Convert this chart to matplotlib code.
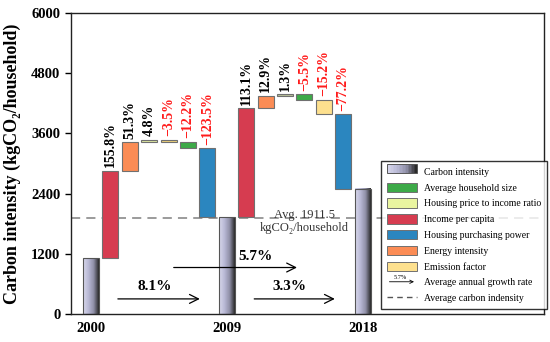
import matplotlib
matplotlib.use("Agg")
import matplotlib.pyplot as plt
import numpy as np
from matplotlib.colors import LinearSegmentedColormap
from matplotlib.patches import Patch, Rectangle, FancyArrowPatch
from matplotlib.legend_handler import HandlerBase
from matplotlib.lines import Line2D
from matplotlib.text import Text

plt.rcParams['font.family'] = ['Liberation Serif', 'DejaVu Serif']

# ---- data ----
years = ["2000", "2009", "2018"]
carbon_intensity = [1114, 1926, 2500]
avg_value = 1911.5
factor_names = ["Income per capita", "Energy intensity", "Housing price to income ratio",
                "Emission factor", "Average household size", "Housing purchasing power"]
deltas_2000_2009 = [1736, 571, 53, -39, -136, -1376]
deltas_2009_2018 = [2178, 248, 25, -106, -293, -1487]
labels_2000_2009 = ["155.8%", "51.3%", "4.8%", "\u22123.5%", "\u221212.2%", "\u2212123.5%"]
labels_2009_2018 = ["113.1%", "12.9%", "1.3%", "\u22125.5%", "\u221215.2%", "\u221277.2%"]
colors_2000_2009 = ["#d63c50", "#fb8c55", "#dfe8a0", "#f0d27a", "#3daa48", "#2b86bf"]
colors_2009_2018 = ["#d63c50", "#fb8c55", "#b8c098", "#3daa48", "#fde08e", "#2b86bf"]
growth_labels = ["8.1%", "5.7%", "3.3%"]
yticks = [0, 1200, 2400, 3600, 4800, 6000]

fig = plt.figure(figsize=(5.5, 3.42), dpi=100)
ax = fig.add_axes([0.1285, 0.082, 0.8605, 0.880])

width = 0.82
cmap = LinearSegmentedColormap.from_list("ci", ["#d8d8ec", "#babad6", "#9090a8", "#2a2a2a"])
grad = np.linspace(0, 1, 100).reshape(1, -1)

def grad_bar(x, h):
    ax.imshow(grad, cmap=cmap, extent=[x - width/2, x + width/2, 0, h],
              aspect='auto', zorder=2)
    ax.add_patch(Rectangle((x - width/2, 0), width, h, fill=False,
                           edgecolor="#555555", lw=0.8, zorder=3))

base_pos = [0, 7, 14]
for p, v in zip(base_pos, carbon_intensity):
    grad_bar(p, v)

def waterfall(start_pos, start_val, deltas, labels, colors):
    cur = start_val
    for i, (d, lab, c) in enumerate(zip(deltas, labels, colors)):
        x = start_pos + 1 + i
        bottom = cur if d >= 0 else cur + d
        ax.bar(x, abs(d), bottom=bottom, width=width, color=c,
               edgecolor="#707070", lw=0.8, zorder=3)
        top = max(cur, cur + d)
        ax.text(x, top + 70, lab, rotation=90, ha='center', va='bottom',
                fontsize=10, fontweight='bold',
                color='black' if d >= 0 else '#ff1a1a', zorder=4)
        cur += d

waterfall(0, carbon_intensity[0], deltas_2000_2009, labels_2000_2009, colors_2000_2009)
waterfall(7, carbon_intensity[1], deltas_2009_2018, labels_2009_2018, colors_2009_2018)

ax.axhline(avg_value, color="#808080", ls=(0, (6, 4)), lw=1.1, zorder=1)
ax.text(11.0, 1840, "Avg. 1911.5\nkgCO\u2082/household", ha='center', va='center',
        fontsize=9, color="#333333", linespacing=1.15, zorder=5)

# growth arrows
arrows = [((1.24, 300), (5.75, 300), (3.3, 540)),
          ((4.12, 926), (10.76, 926), (8.45, 1140)),
          ((8.27, 300), (12.71, 300), (10.25, 540))]
for (s, e, t), lab in zip(arrows, growth_labels):
    ax.annotate("", xy=e, xytext=s,
                arrowprops=dict(arrowstyle="->", color="black", lw=0.9,
                                mutation_scale=16), zorder=5)
    ax.text(t[0], t[1], lab, ha='center', va='center', fontsize=11,
            fontweight='bold', zorder=5)

ax.set_xlim(-1.05, 23.35)
ax.set_ylim(0, 6000)
ax.set_xticks(base_pos)
ax.set_xticklabels(years, fontsize=10.5, fontweight='bold')
ax.tick_params(axis='x', length=0, pad=6)
ax.set_yticks(yticks)
ax.set_yticklabels([str(v) for v in yticks], fontsize=10.5, fontweight='bold')
ax.tick_params(axis='y', direction='out', length=4, width=1)
ax.set_ylabel("Carbon intensity (kgCO\u2082/household)", fontsize=13,
              fontweight='bold', labelpad=7)
for sp in ax.spines.values():
    sp.set_linewidth(1.0)
    sp.set_color("#222222")

# legend
class GradHandler(HandlerBase):
    def create_artists(self, legend, orig, xd, yd, w, h, fontsize, trans):
        arts = []
        n = 20
        for k in range(n):
            r = Rectangle((xd + w * k / n, yd), w / n + 0.3, h,
                          facecolor=cmap(k / (n - 1)), edgecolor='none', transform=trans)
            arts.append(r)
        arts.append(Rectangle((xd, yd), w, h, fill=False, edgecolor="#555555",
                              lw=0.7, transform=trans))
        return arts

class ArrowHandler(HandlerBase):
    def create_artists(self, legend, orig, xd, yd, w, h, fontsize, trans):
        a = FancyArrowPatch((xd, yd + h * 0.25), (xd + w, yd + h * 0.25),
                            arrowstyle="->", mutation_scale=6, lw=0.6,
                            color='black', transform=trans)
        t = Text(xd + w * 0.45, yd + h * 0.45, "5.7%", fontsize=4.5,
                 ha='center', va='bottom', transform=trans)
        return [a, t]

class GradKey: pass
class ArrowKey: pass

handles = [GradKey(),
           Patch(facecolor="#3daa48", edgecolor="#707070", lw=0.7),
           Patch(facecolor="#eaf5a0", edgecolor="#707070", lw=0.7),
           Patch(facecolor="#d63c50", edgecolor="#707070", lw=0.7),
           Patch(facecolor="#2b86bf", edgecolor="#707070", lw=0.7),
           Patch(facecolor="#fb8c55", edgecolor="#707070", lw=0.7),
           Patch(facecolor="#fde08e", edgecolor="#707070", lw=0.7),
           ArrowKey(),
           Line2D([], [], color="#555555", ls=(0, (4, 3)), lw=1.0)]
leg_labels = ["Carbon intensity", "Average household size", "Housing price to income ratio",
              "Income per capita", "Housing purchasing power", "Energy intensity",
              "Emission factor", "Average annual growth rate", "Average carbon indensity"]
leg = ax.legend(handles, leg_labels, loc='lower right', bbox_to_anchor=(1.016, 0.0),
                fontsize=7, frameon=True, fancybox=False, edgecolor='black',
                handlelength=3.1, handleheight=1.1, labelspacing=0.6,
                borderpad=0.6, handletextpad=0.7,
                handler_map={GradKey: GradHandler(), ArrowKey: ArrowHandler()})
leg.get_frame().set_linewidth(1.0)
leg.set_zorder(10)

fig.savefig("out.png", dpi=100)
